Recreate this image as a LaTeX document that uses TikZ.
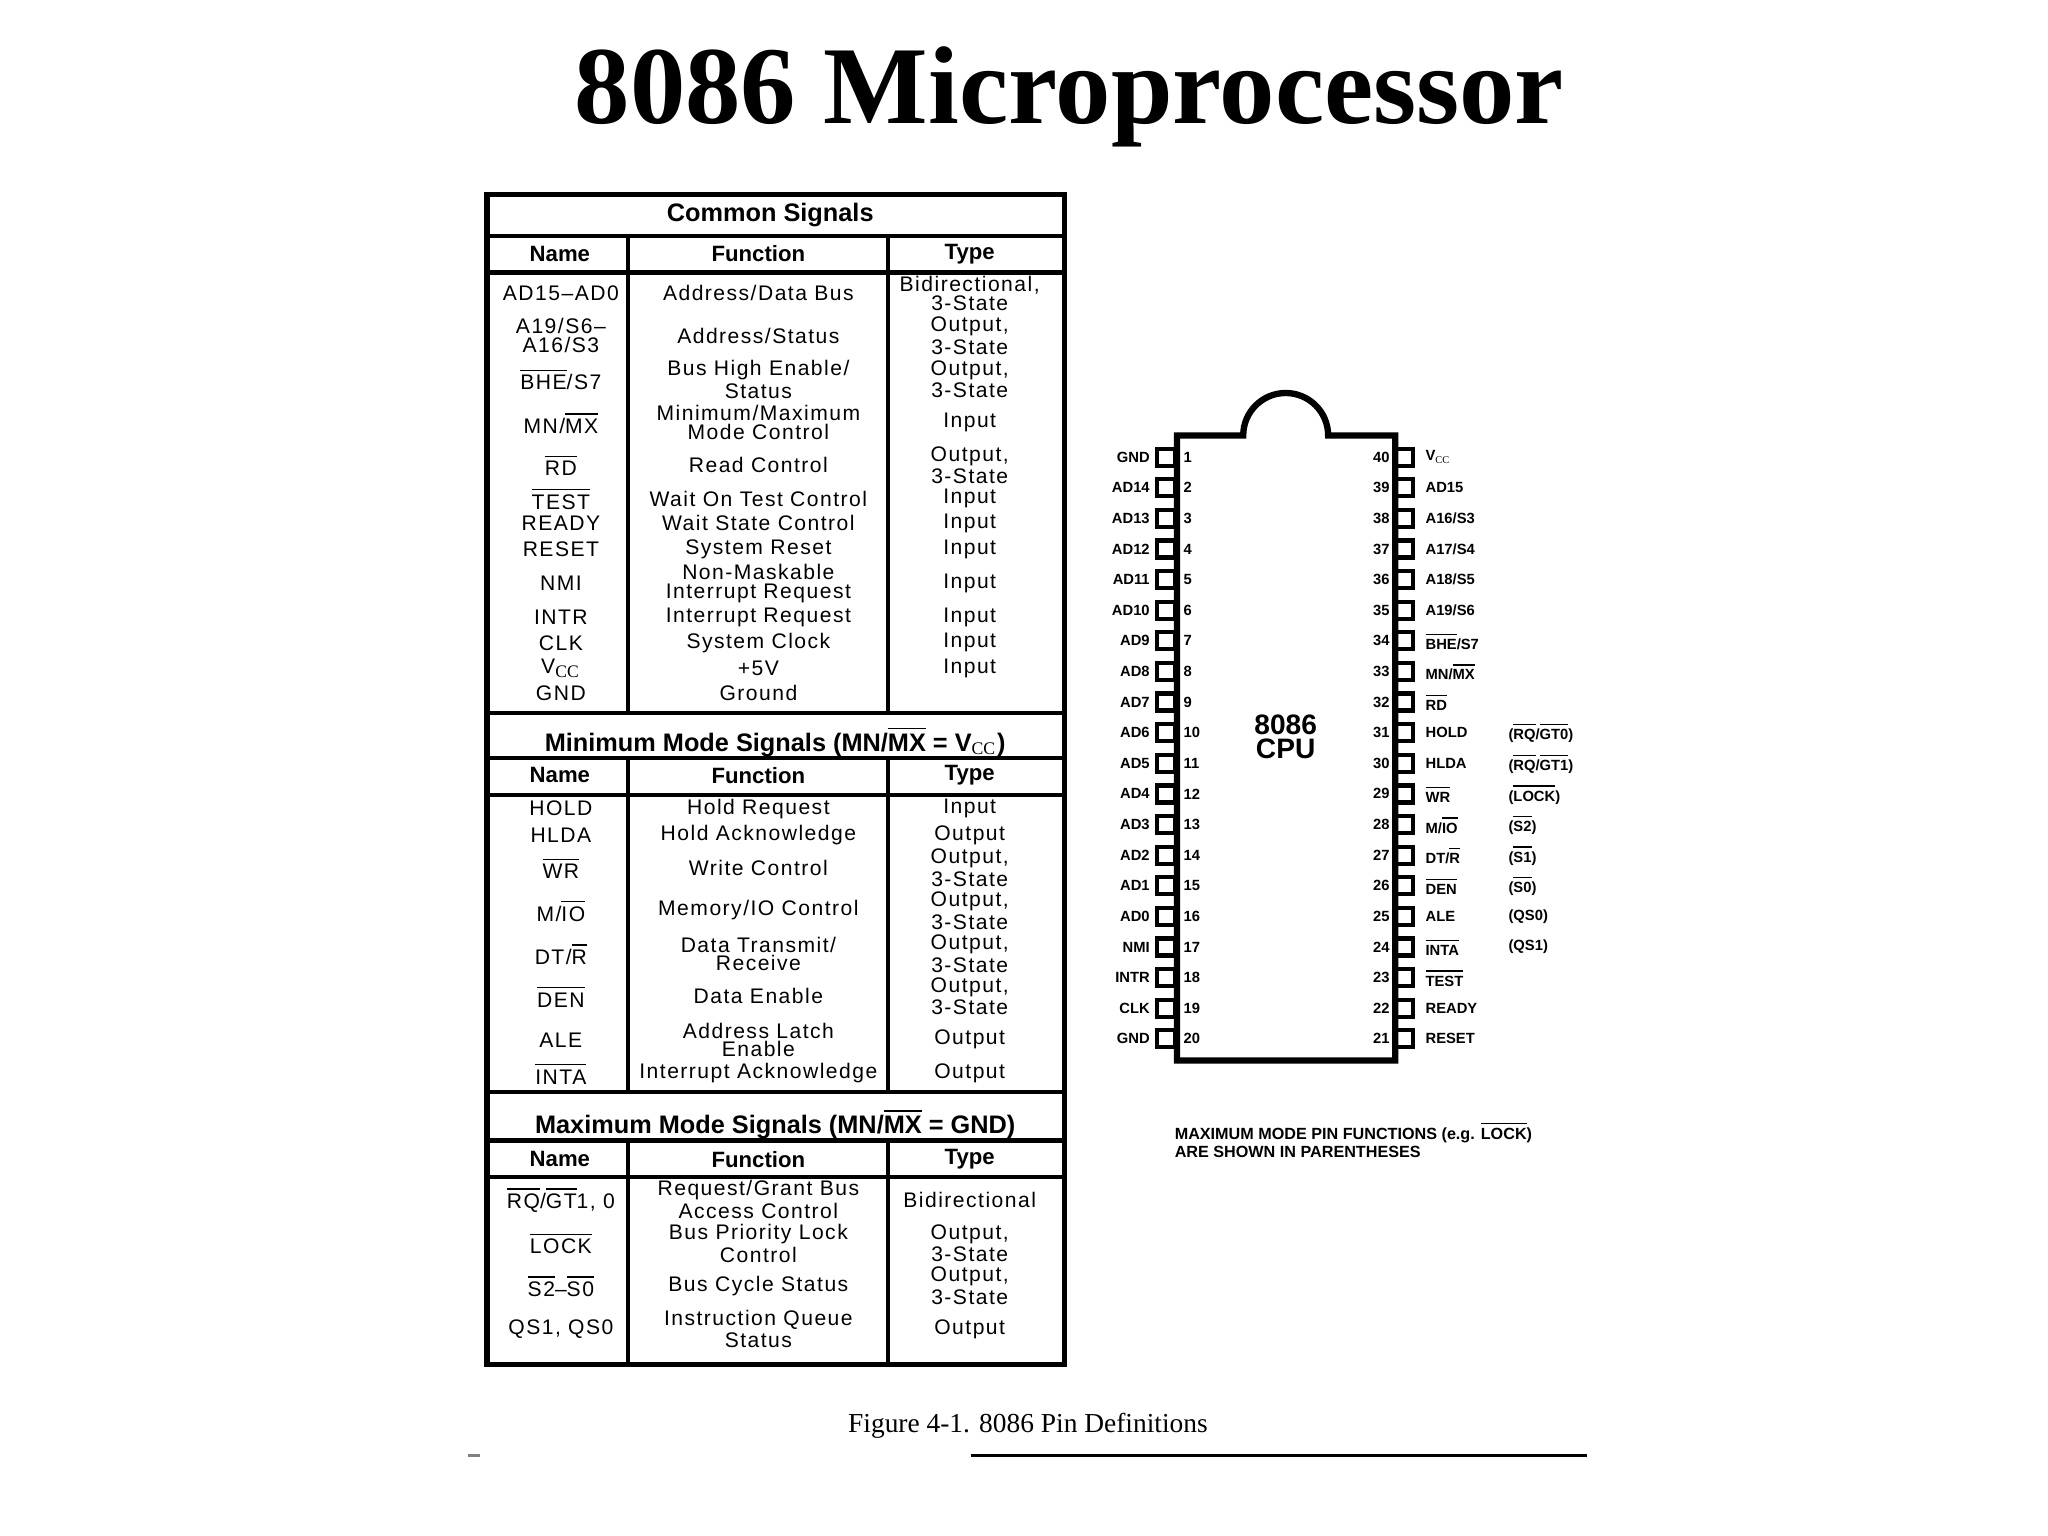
\documentclass[tikz,border=0pt]{standalone}
\usepackage{fontspec}
\setmainfont{Liberation Serif}
\setsansfont{Liberation Sans}
\newfontfamily\cellfont{Liberation Sans}[LetterSpace=7]
\newcommand{\ov}[1]{$\overline{\mbox{#1}}$}
\begin{document}
\begin{tikzpicture}[x=0.009875cm,y=-0.009875cm,
  cell/.style={font=\cellfont\fontsize{6}{5.3}\selectfont,align=center,inner sep=0pt},
  hdr/.style={font=\sffamily\bfseries\fontsize{6.3}{6}\selectfont,inner sep=0pt},
  ttl/.style={font=\sffamily\bfseries\fontsize{7.2}{7}\selectfont,inner sep=0pt},
  pin/.style={draw,line width=1.2pt,minimum width=0.18cm,minimum height=0.17cm,inner sep=0pt},
  pl/.style={font=\sffamily\bfseries\fontsize{4.2}{4}\selectfont,inner sep=0pt},
  tbl/.style={line width=1.6pt}]
\useasboundingbox (0,0) rectangle (2074,1555);
\node[font=\bfseries\fontsize{31.5}{34}\selectfont] (title) at (1083,98) {8086 Microprocessor};
% table
\draw[tbl] (493,197) rectangle (1078,1382);
\foreach \y in {239,276,722,768,805,1106,1155,1192} \draw[line width=1.2pt] (493,\y) -- (1078,\y);
\foreach \a/\b in {239/722,768/1106,1155/1382} {\draw[line width=1.2pt] (636,\a) -- (636,\b); \draw[line width=1.2pt] (899,\a) -- (899,\b);}
\node[ttl] (t1) at (780,218) {Common Signals};
\node[ttl] (t2) at (785,751) {Minimum Mode Signals (MN/\ov{MX} = V$_{\mathrm{CC}}$)};
\node[ttl] (t3) at (785,1138) {Maximum Mode Signals (MN/\ov{MX} = GND)};
\foreach \y/\n in {257/a,785/b,1174/c} {
 \node[hdr] (n\n) at (567,\y) {Name};
 \node[hdr] (f\n) at (768,\y) {Function};
 \node[hdr] (y\n) at (982,\y) {Type};}
\foreach \y/\a/\b/\c [count=\i] in {
 297/{AD15–AD0}/{Address/Data Bus}/{Bidirectional,\\3-State},
 340/{A19/S6–\\A16/S3}/{Address/Status}/{Output,\\3-State},
 384/{\ov{BHE}/S7}/{Bus High Enable/\\Status}/{Output,\\3-State},
 428/{MN/\ov{MX}}/{Minimum/Maximum\\Mode Control}/{Input},
 471/{\ov{RD}}/{Read Control}/{Output,\\3-State},
 505/{\ov{TEST}}/{Wait On Test Control}/{Input},
 530/{READY}/{Wait State Control}/{Input},
 556/{RESET}/{System Reset}/{Input},
 591/{NMI}/{Non-Maskable\\Interrupt Request}/{Input},
 625/{INTR}/{Interrupt Request}/{Input},
 651/{CLK}/{System Clock}/{Input},
 677/{V$_{\mathrm{CC}}$}/{+5V}/{Input},
 702/{GND}/{Ground}/{},
 819/{HOLD}/{Hold Request}/{Input},
 846/{HLDA}/{Hold Acknowledge}/{Output},
 879/{\ov{WR}}/{Write Control}/{Output,\\3-State},
 922/{M/\ov{IO}}/{Memory/IO Control}/{Output,\\3-State},
 966/{DT/\ov{R}}/{Data Transmit/\\Receive}/{Output,\\3-State},
 1009/{\ov{DEN}}/{Data Enable}/{Output,\\3-State},
 1053/{ALE}/{Address Latch\\Enable}/{Output},
 1087/{\ov{INTA}}/{Interrupt Acknowledge}/{Output},
 1215/{\ov{RQ}/\ov{GT}1, 0}/{Request/Grant Bus\\Access Control}/{Bidirectional},
 1259/{\ov{LOCK}}/{Bus Priority Lock\\Control}/{Output,\\3-State},
 1302/{\ov{S2}–\ov{S0}}/{Bus Cycle Status}/{Output,\\3-State},
 1346/{QS1, QS0}/{Instruction Queue\\Status}/{Output}} {
 \node[cell] (rn\i) at (568,\y) {\a};
 \node[cell] (rf\i) at (768,\y) {\b};
 \node[cell] (rt\i) at (982,\y) {\c};}
% chip
\draw[line width=1.8pt] (1192,441) -- (1259,441) arc[start angle=180,end angle=360,radius=43] -- (1413,441) -- (1413,1074) -- (1192,1074) -- cycle;
\node[font=\sffamily\bfseries\fontsize{8}{7}\selectfont,align=center,inner sep=0pt] (cpu) at (1302,746) {8086\\CPU};
\foreach \l [count=\i] in {GND,AD14,AD13,AD12,AD11,AD10,AD9,AD8,AD7,AD6,AD5,AD4,AD3,AD2,AD1,AD0,NMI,INTR,CLK,GND} {
 \pgfmathsetmacro\yy{463+(\i-1)*31}
 \node[pin] (lp\i) at (1181,\yy) {};
 \node[pl,anchor=east] (ll\i) at (1165,\yy) {\l};
 \node[pl,anchor=west] (ln\i) at (1198,\yy) {\i};}
\foreach \l/\m [count=\i] in {{V$_{\mathrm{CC}}$}/{},{AD15}/{},{A16/S3}/{},{A17/S4}/{},{A18/S5}/{},{A19/S6}/{},{\ov{BHE}/S7}/{},{MN/\ov{MX}}/{},{\ov{RD}}/{},{HOLD}/{(\ov{RQ}/\ov{GT0})},{HLDA}/{(\ov{RQ}/\ov{GT1})},{\ov{WR}}/{(\ov{LOCK})},{M/\ov{IO}}/{(\ov{S2})},{DT/\ov{R}}/{(\ov{S1})},{\ov{DEN}}/{(\ov{S0})},{ALE}/{(QS0)},{\ov{INTA}}/{(QS1)},{\ov{TEST}}/{},{READY}/{},{RESET}/{}} {
 \pgfmathsetmacro\yy{463+(\i-1)*31}
 \pgfmathtruncatemacro\nn{41-\i}
 \node[pin] (rp\i) at (1422,\yy) {};
 \node[pl,anchor=east] (rnn\i) at (1408,\yy) {\nn};
 \node[pl,anchor=west] (rl\i) at (1443,\yy) {\l};
 \node[pl,anchor=west] (rm\i) at (1527,\yy) {\m};}
\node[pl,anchor=west,align=left,font=\sffamily\bfseries\fontsize{4.6}{4}\selectfont] (note) at (1189,1154) {MAXIMUM MODE PIN FUNCTIONS (e.g. \ov{LOCK})\\ARE SHOWN IN PARENTHESES};
\node[font=\fontsize{7.8}{8}\selectfont,inner sep=0pt] (cap) at (1041,1444) {Figure 4-1. 8086 Pin Definitions};
\coordinate (u1) at (983,1474); \coordinate (u2) at (1607,1474);
\draw[line width=1pt] (u1) -- (u2);
\coordinate (d1) at (474,1474); \coordinate (d2) at (486,1474);
\draw[gray,line width=0.6pt] (d1) -- (d2);
\end{tikzpicture}
\end{document}
